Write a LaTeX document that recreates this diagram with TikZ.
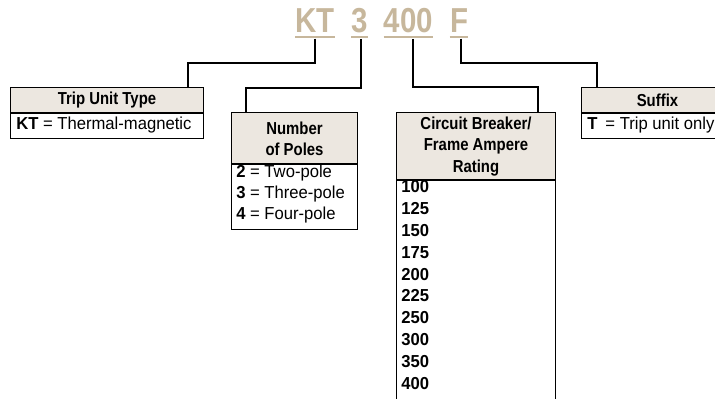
\documentclass[tikz,border=0pt]{standalone}
\usepackage{fontspec}
\setmainfont{Liberation Sans}[FakeStretch=0.96]
\newfontfamily\codefont{Liberation Sans}[FakeStretch=0.85]
\newfontfamily\headfont{Liberation Sans}[FakeStretch=0.86]
\definecolor{codetan}{RGB}{199,183,156}
\definecolor{headfill}{RGB}{236,231,224}
\tikzset{
  code/.style={text=codetan, font=\codefont\bfseries\fontsize{26}{26}\selectfont, inner sep=0, anchor=base},
  codeline/.style={codetan, line width=1.5pt},
  link/.style={line width=1.5pt},
  headbox/.style={draw, line width=.75pt, fill=headfill, font=\headfont\bfseries\fontsize{13}{16}\selectfont, align=center, anchor=north west, inner sep=0},
  bodybox/.style={draw, line width=.75pt, anchor=north west, inner sep=0},
  entry/.style={font=\fontsize{13}{15}\selectfont, anchor=west, inner sep=0},
}

\begin{document}
\begin{tikzpicture}[x=0.75pt, y=-0.75pt]
        \useasboundingbox (0,0) rectangle (715,399);
        \clip (0,0) rectangle (715,399);
        % catalog code
        \node[code] (kt) at (315,33) {KT};
        \node[code] (three) at (359.5,33) {3};
        \node[code] (amp) at (408.5,33) {400};
        \node[code] (sfx) at (459,33) {F};
        \foreach \c in {kt,three,amp,sfx}
        \draw[codeline] ([yshift=-3pt]\c.base west) -- ([yshift=-3pt]\c.base east);
        % boxes
        \node[headbox, minimum width=144.75pt, minimum height=18.75pt] (trip) at (10,87.5) {Trip Unit Type};
        \node[bodybox, minimum width=144.75pt, minimum height=18.75pt] (tripbody) at (trip.south west) {};
        \node[entry] (kttext) at (16,125) {\textbf{KT} = Thermal-magnetic};
        \node[headbox, minimum width=94.5pt, minimum height=38.25pt] (poles) at (231,112.5) {Number\\of Poles};
        \node[bodybox, minimum width=94.5pt, minimum height=48.75pt] (polesbody) at (poles.south west) {};
        \node[entry] (p2) at (236,173) {\textbf{2} = Two-pole};
        \node[entry] (p3) at (236,194) {\textbf{3} = Three-pole};
        \node[entry] (p4) at (236,215) {\textbf{4} = Four-pole};
        \node[headbox, minimum width=119.25pt, minimum height=50.25pt] (cb) at (396,112.5) {Circuit Breaker/\\Frame Ampere\\Rating};
        \node[bodybox, minimum width=119.25pt, minimum height=180pt] (cbbody) at (cb.south west) {};
        \foreach \a [count=\i from 0] in {100,125,150,175,200,225,250,300,350,400}
        \node[entry, font=\bfseries\fontsize{13}{15}\selectfont] (a\a) at (401,187+21.8*\i) {\a};
        \node[headbox, minimum width=114pt, minimum height=18.75pt] (suffix) at (581,87.5) {Suffix};
        \node[bodybox, minimum width=114pt, minimum height=18.75pt] (suffixbody) at (suffix.south west) {};
        \node[entry] (ttext) at (587,125) {\textbf{T}\hspace{6pt}= Trip unit only};
        % connectors
        \draw[link] ([yshift=-4pt]kt.south) |- (188,63) -- (188,0 |- trip.north);
        \draw[link] ([xshift=1pt,yshift=-4pt]three.south) |- (246,88) -- (246,0 |- poles.north);
        \draw[link] ([xshift=3pt,yshift=-4pt]amp.south) |- (538,87) -- (538,0 |- cb.north);
        \draw[link] ([xshift=1.5pt,yshift=-4pt]sfx.south) |- (597,63) -- (597,0 |- suffix.north);
\end{tikzpicture}
\end{document}
